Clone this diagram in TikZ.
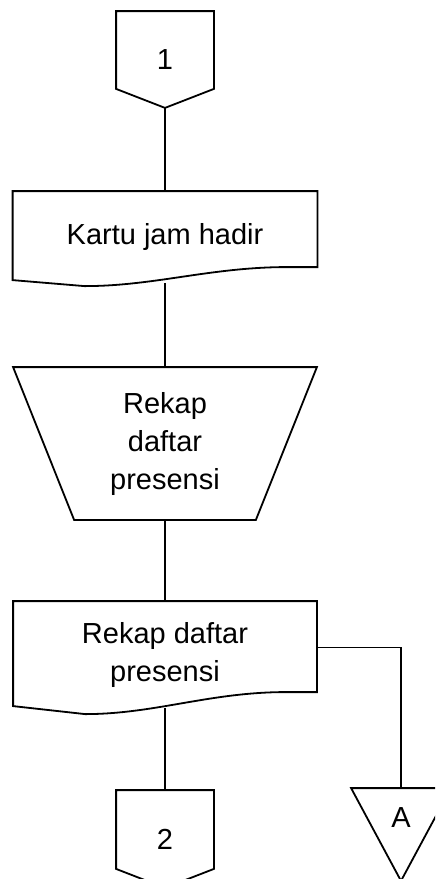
\documentclass[tikz,border=0pt]{standalone}
\usepackage{fontspec}
\setmainfont{Liberation Sans}
\usetikzlibrary{calc}

\tikzset{
  flow/.style={draw=none, inner sep=0pt, align=center},
}

\begin{document}
\begin{tikzpicture}[x=0.5pt, y=-0.5pt, line width=0.9pt, font=\fontsize{14.5}{19}\selectfont]
  \clip (0,0) rectangle (435,879);

  % off-page connector 1
  \node[flow, minimum width=48pt, minimum height=47.5pt] (c1) at (165,59.5) {1};
  \draw (c1.north west) -- (c1.north east) -- ($(c1.south east)+(0,-19)$)
    -- (c1.south) -- ($(c1.south west)+(0,-19)$) -- cycle;

  % document: kartu jam hadir
  \node[flow, minimum width=151.5pt, minimum height=45pt] (d1) at (165,237) {Kartu jam hadir};
  \draw (d1.north west) -- (d1.north east) -- ($(d1.north east)+(0,76)$) -- ($(d1.north east)+(-36,76)$)
    .. controls ($(d1.north east)+(-110,77)$) and ($(d1.north west)+(140,95)$) .. ($(d1.north west)+(72,95)$)
    -- ($(d1.north west)+(0,89)$) -- cycle;

  % manual operation
  \node[flow, minimum width=151pt, minimum height=75.5pt] (t1) at (165,443.5) {Rekap\\daftar\\presensi};
  \draw (t1.north west) -- (t1.north east) -- ($(t1.south east)+(-61,0)$)
    -- ($(t1.south west)+(61,0)$) -- cycle;

  % document: rekap daftar presensi
  \node[flow, minimum width=151pt, minimum height=52.5pt] (d2) at (165,654.5) {Rekap daftar\\presensi};
  \draw (d2.north west) -- (d2.north east) -- ($(d2.north east)+(0,91)$) -- ($(d2.north east)+(-36,91)$)
    .. controls ($(d2.north east)+(-110,92)$) and ($(d2.north west)+(140,113)$) .. ($(d2.north west)+(72,113)$)
    -- ($(d2.north west)+(0,105)$) -- cycle;

  % off-page connector 2
  \node[flow, minimum width=48pt, minimum height=48pt] (c2) at (165,839) {2};
  \draw (c2.north west) -- (c2.north east) -- ($(c2.south east)+(0,-19)$)
    -- (c2.south) -- ($(c2.south west)+(0,-19)$) -- cycle;

  % archive A
  \node[flow, minimum width=49pt, minimum height=29pt] (a1) at (401,818) {A};
  \draw (a1.north west) -- (a1.north east) -- ($(a1.south)+(0,33)$) -- cycle;

  \draw (c1.south) -- (d1.north);
  \draw (d1.south) -- (t1.north);
  \draw (t1.south) -- (d2.north);
  \draw (d2.south) -- (c2.north);
  \draw ($(d2.east)+(0,-7)$) -| (a1.north);
\end{tikzpicture}
\end{document}
